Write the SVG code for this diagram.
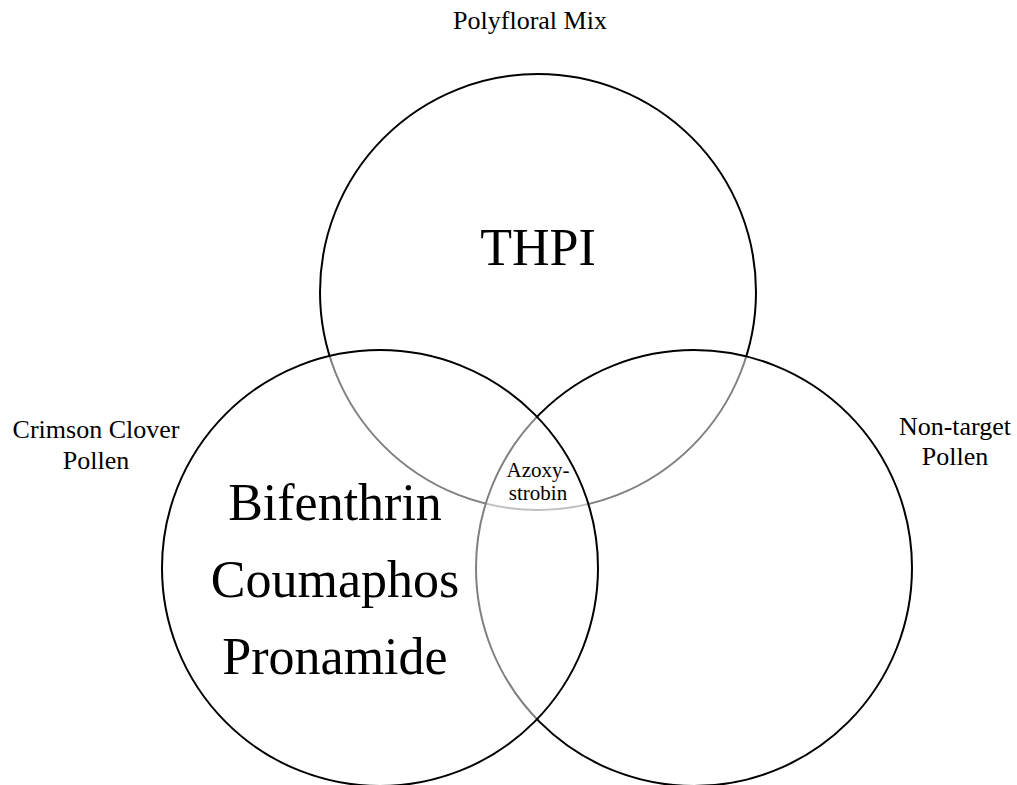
<svg xmlns="http://www.w3.org/2000/svg" width="1017" height="785" viewBox="0 0 1017 785">
<style>
.c{fill:#fff;fill-opacity:0.5;stroke:#000;stroke-width:2}
.t{font-family:"Liberation Serif","Times New Roman",serif;fill:#000;text-anchor:middle}
.lab{font-size:26px}
.big{font-size:52px}
.sm{font-size:21px}
</style>
<rect width="1017" height="785" fill="#fff"/>
<g id="set-polyfloral">
<circle class="c" cx="538" cy="292" r="218"/>
</g>
<g id="set-nontarget">
<circle class="c" cx="694" cy="568" r="218"/>
</g>
<g id="set-crimson">
<circle class="c" cx="380" cy="568" r="218"/>
</g>
<g id="connectors"></g>
<g id="labels">
<text class="t lab" x="530" y="29">Polyfloral Mix</text>
<text class="t lab" x="96" y="438">Crimson Clover</text>
<text class="t lab" x="96" y="469">Pollen</text>
<text class="t lab" x="955" y="435">Non-target</text>
<text class="t lab" x="955" y="465">Pollen</text>
</g>
<g id="region-thpi"><text class="t big" x="538" y="265">THPI</text></g>
<g id="region-crimson">
<text class="t big" x="335" y="520">Bifenthrin</text>
<text class="t big" x="335" y="597">Coumaphos</text>
<text class="t big" x="335" y="674">Pronamide</text>
</g>
<g id="region-center">
<text class="t sm" x="538" y="477">Azoxy-</text>
<text class="t sm" x="538" y="500">strobin</text>
</g>
</svg>
